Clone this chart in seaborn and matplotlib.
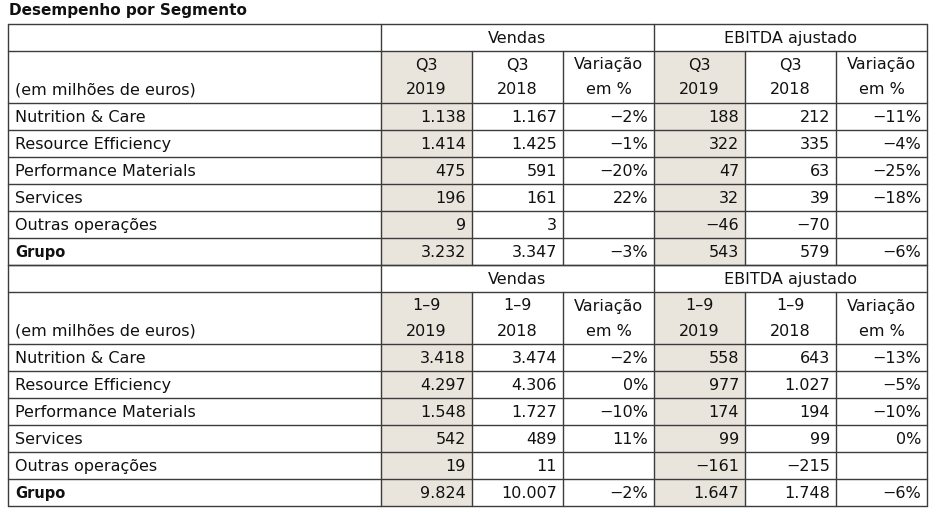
import matplotlib.pyplot as plt
import seaborn as sns

sns.set_theme(style="white")
plt.rcParams['font.family'] = ['DejaVu Sans']
plt.rcParams['text.color'] = '#111111'

# Data
segments = ["Nutrition & Care", "Resource Efficiency", "Performance Materials",
            "Services", "Outras operações", "Grupo"]

q3_sales_2019 = [1138, 1414, 475, 196, 9, 3232]
q3_sales_2018 = [1167, 1425, 591, 161, 3, 3347]
q3_sales_var = [-2, -1, -20, 22, None, -3]
q3_ebitda_2019 = [188, 322, 47, 32, -46, 543]
q3_ebitda_2018 = [212, 335, 63, 39, -70, 579]
q3_ebitda_var = [-11, -4, -25, -18, None, -6]

ytd_sales_2019 = [3418, 4297, 1548, 542, 19, 9824]
ytd_sales_2018 = [3474, 4306, 1727, 489, 11, 10007]
ytd_sales_var = [-2, 0, -10, 11, None, -2]
ytd_ebitda_2019 = [558, 977, 174, 99, -161, 1647]
ytd_ebitda_2018 = [643, 1027, 194, 99, -215, 1748]
ytd_ebitda_var = [-13, -5, -10, 0, None, -6]

groups = ["Vendas", "EBITDA ajustado"]
unit_label = "(em milhões de euros)"
title = "Desempenho por Segmento"

SHADE = "#e9e4dc"
LINE = "#3c3c3c"
FS = 11.5


def fmt_num(v):
    s = f"{abs(v):,}".replace(",", ".")
    return ("\u2212" + s) if v < 0 else s


def fmt_pct(v):
    if v is None:
        return ""
    return ("\u2212" if v < 0 else "") + f"{abs(v)}%"


fig, ax = plt.subplots(figsize=(9.43, 5.11), dpi=100)
ax.set_position([0, 0, 1, 1])
ax.set_xlim(0, 943)
ax.set_ylim(511, 0)
ax.axis("off")

# layout (pixels)
x_left, x_lab, x_right = 8, 381, 927
col_w = (x_right - x_lab) / 6
col_edges = [x_lab + i * col_w for i in range(7)]
row_h = 27
head1_h = 27
head2_h = 52


def draw_section(top, period, year_a, year_b, columns):
    y1 = top + head1_h
    y2 = y1 + head2_h
    bottom = y2 + row_h * len(segments)

    # shaded 2019 columns
    for c in (0, 3):
        ax.add_patch(plt.Rectangle((col_edges[c], y1), col_w, bottom - y1,
                                   facecolor=SHADE, edgecolor="none", zorder=0))

    # horizontal lines
    for y in [top, y1, y2] + [y2 + row_h * i for i in range(1, len(segments) + 1)]:
        ax.plot([x_left, x_right], [y, y], color=LINE, lw=1.0, zorder=2)
    # vertical lines
    for x in (x_left, x_lab, col_edges[3], x_right):
        ax.plot([x, x], [top, bottom], color=LINE, lw=1.0, zorder=2)
    for x in (col_edges[1], col_edges[2], col_edges[4], col_edges[5]):
        ax.plot([x, x], [y1, bottom], color=LINE, lw=1.0, zorder=2)

    # group headers
    for g, name in enumerate(groups):
        cx = (col_edges[3 * g] + col_edges[3 * g + 3]) / 2
        ax.text(cx, top + head1_h / 2 + 1, name, ha="center", va="center", fontsize=FS)

    # sub headers
    heads = [(period, year_a), (period, year_b), ("Variação", "em %")] * 2
    for c, (l1, l2) in enumerate(heads):
        cx = (col_edges[c] + col_edges[c + 1]) / 2
        ax.text(cx, y1 + 14, l1, ha="center", va="center", fontsize=FS)
        ax.text(cx, y1 + 39, l2, ha="center", va="center", fontsize=FS)
    ax.text(x_left + 7, y1 + 39, unit_label, ha="left", va="center", fontsize=FS)

    # body
    for r, seg in enumerate(segments):
        cy = y2 + row_h * r + row_h / 2 + 1
        if seg == "Grupo":
            ax.text(x_left + 7, cy, seg, ha="left", va="center", fontsize=10.5, fontweight="bold")
        else:
            ax.text(x_left + 7, cy, seg, ha="left", va="center", fontsize=FS)
        for c, values in enumerate(columns):
            v = values[r]
            txt = fmt_pct(v) if c in (2, 5) else fmt_num(v)
            ax.text(col_edges[c + 1] - 6, cy, txt, ha="right", va="center", fontsize=FS)
    return bottom


ax.text(x_left + 1, 11, title, ha="left", va="center", fontsize=11, fontweight="bold")

end = draw_section(24, "Q3", "2019", "2018",
                   [q3_sales_2019, q3_sales_2018, q3_sales_var,
                    q3_ebitda_2019, q3_ebitda_2018, q3_ebitda_var])
draw_section(end, "1\u20139", "2019", "2018",
             [ytd_sales_2019, ytd_sales_2018, ytd_sales_var,
              ytd_ebitda_2019, ytd_ebitda_2018, ytd_ebitda_var])

fig.savefig("out.png", dpi=100)
